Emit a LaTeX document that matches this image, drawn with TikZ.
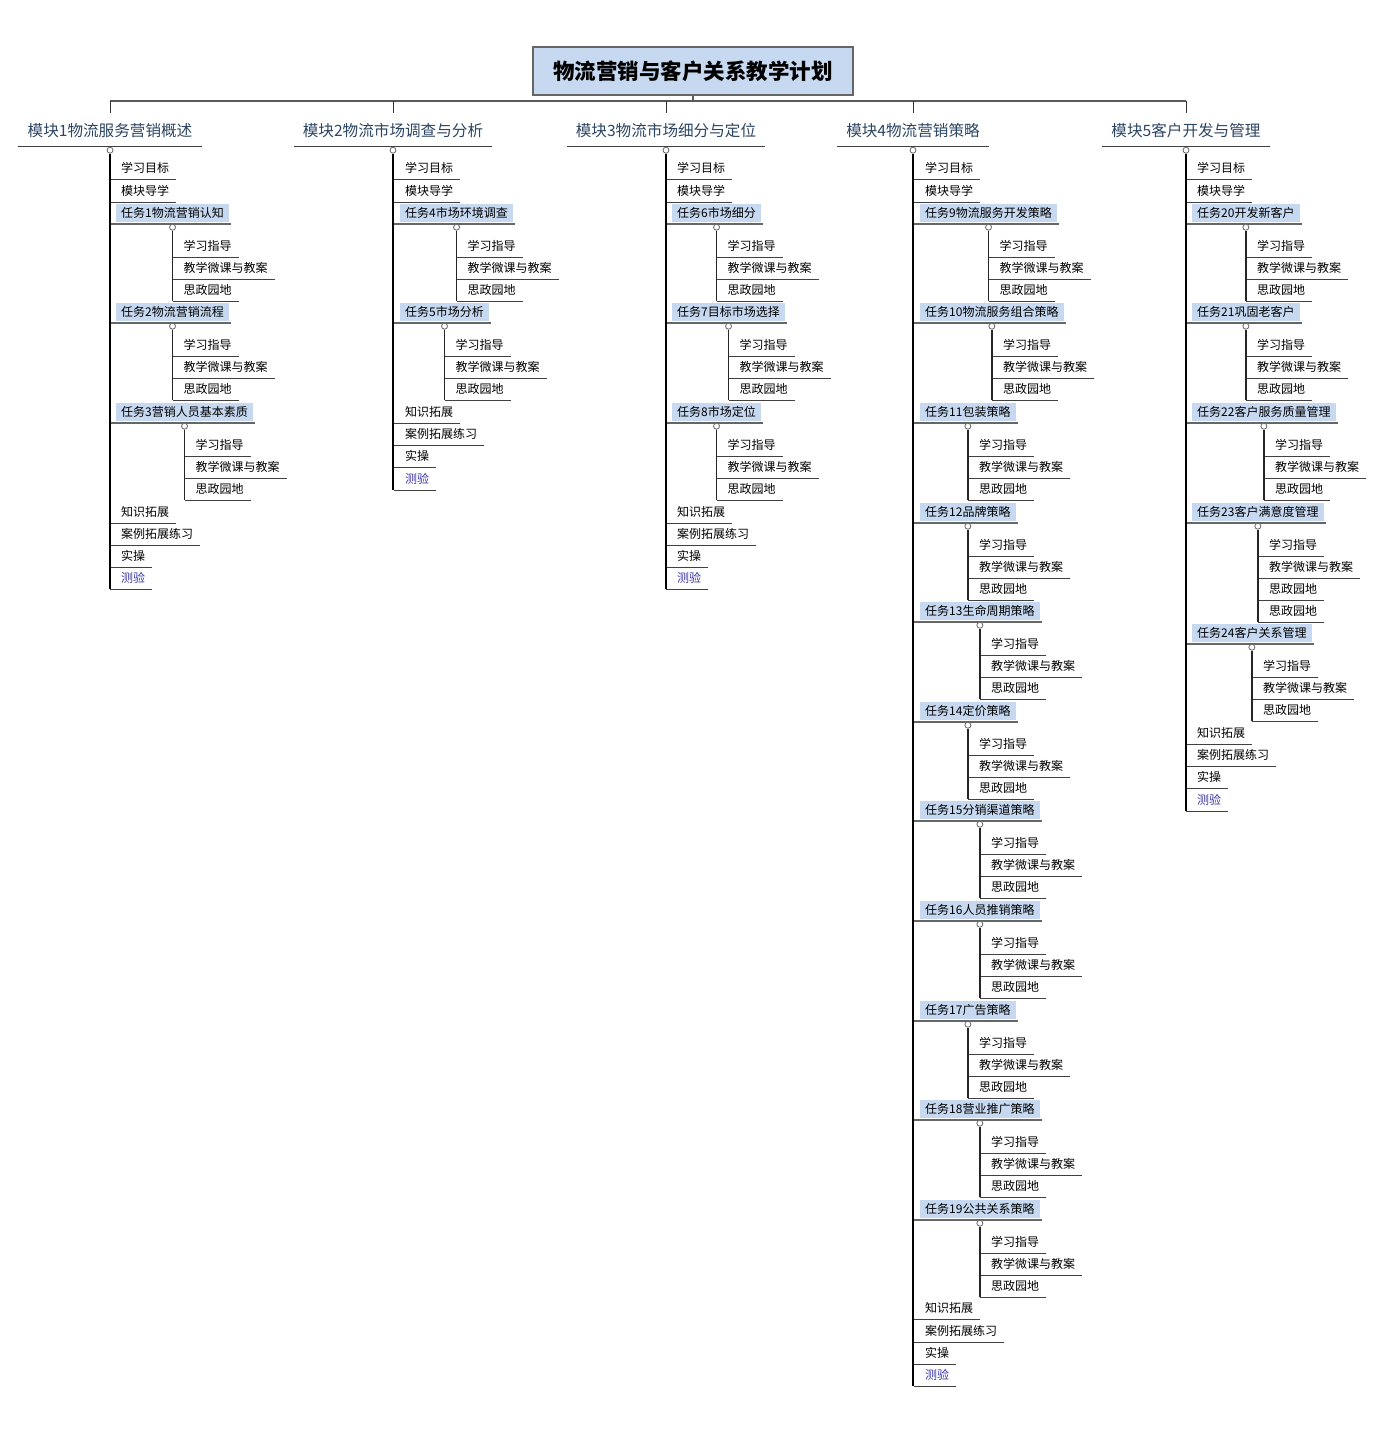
\documentclass[tikz,border=0pt]{standalone}
\usepackage{fontspec}
\setmainfont{Noto Sans CJK SC}
\usepackage{xcolor}
\usetikzlibrary{positioning,calc}
\definecolor{taskblue}{HTML}{C6D9F1}
\definecolor{modblue}{HTML}{2B4562}
\definecolor{quizblue}{HTML}{3A36A6}
\tikzset{
  uline/.style={draw=black!75,line width=1pt},
  tline/.style={draw=black!60,line width=2pt},
  mline/.style={draw=black!75,line width=1.2pt},
  leaf/.style={anchor=west,inner xsep=0pt,inner ysep=0pt,minimum height=22pt,
    font=\fontsize{12}{14}\selectfont,
    append after command={([xshift=-11pt]\tikzlastnode.south west) edge[uline] ([xshift=7pt]\tikzlastnode.south east)}},
  task/.style={anchor=west,fill=taskblue,inner xsep=5pt,inner ysep=0pt,minimum height=18pt,
    font=\fontsize{12}{14}\selectfont,
    append after command={([xshift=-6pt,yshift=-2pt]\tikzlastnode.south west) edge[tline] ([xshift=2pt,yshift=-2pt]\tikzlastnode.south east)}},
  module/.style={text=modblue,inner xsep=9pt,inner ysep=0pt,minimum height=30pt,
    font=\fontsize{15.6}{18}\selectfont,
    append after command={(\tikzlastnode.south west) edge[mline] (\tikzlastnode.south east)}},
  titlebox/.style={draw=black!60,fill=taskblue,line width=1.2pt,minimum width=320pt,minimum height=48pt,
    font=\fontsize{21.5}{24}\selectfont\bfseries},
  knob/.style={circle,draw=black!60,fill=white,inner sep=0pt,minimum size=6pt,line width=0.8pt},
  vline/.style={draw=black,line width=1.5pt},
  subline/.style={draw=black!85,line width=1.3pt},
  barline/.style={draw=black!65,line width=2pt},
  dropline/.style={draw=black!80,line width=1pt}
}
\begin{document}
\begin{tikzpicture}[x=1pt,y=-1pt]
  \useasboundingbox (0,0) rectangle (1397,1438);

  % title and modules
  \node[titlebox] (T) at (693,71) {物流营销与客户关系教学计划};
  \coordinate (bar) at (693,101);
  \node[module] (M1) at (110,131) {模块1物流服务营销概述};
  \node[module] (M2) at (393,131) {模块2物流市场调查与分析};
  \node[module] (M3) at (666,131) {模块3物流市场细分与定位};
  \node[module] (M4) at (913,131) {模块4物流营销策略};
  \node[module] (M5) at (1186,131) {模块5客户开发与管理};

  \draw[barline] (T.south) -- (bar);
  \draw[barline] (M1.north |- bar) -- (M5.north |- bar);
  \foreach \m in {M1,M2,M3,M4,M5} {
    \draw[dropline] (\m.north |- bar) -- ([yshift=3pt]\m.north);
    \node[knob] (\m k) at ([yshift=-4pt]\m.south) {};
  }

  % module 1
  \node[leaf] (a1) at (121,168) {学习目标};
  \node[leaf] (a2) at (121,191) {模块导学};
  \node[task] (a3) at (116,213) {任务1物流营销认知};
  \node[task] (a4) at (116,312) {任务2物流营销流程};
  \node[task] (a5) at (116,412) {任务3营销人员基本素质};
  \node[leaf] (a6) at (121,512) {知识拓展};
  \node[leaf] (a7) at (121,534) {案例拓展练习};
  \node[leaf] (a8) at (121,556) {实操};
  \node[leaf,text=quizblue] (a9) at (121,578) {测验};

  % module 2
  \node[leaf] (b1) at (405,168) {学习目标};
  \node[leaf] (b2) at (405,191) {模块导学};
  \node[task] (b3) at (400,213) {任务4市场环境调查};
  \node[task] (b4) at (400,312) {任务5市场分析};
  \node[leaf] (b5) at (405,412) {知识拓展};
  \node[leaf] (b6) at (405,434) {案例拓展练习};
  \node[leaf] (b7) at (405,456) {实操};
  \node[leaf,text=quizblue] (b8) at (405,479) {测验};

  % module 3
  \node[leaf] (c1) at (677,168) {学习目标};
  \node[leaf] (c2) at (677,191) {模块导学};
  \node[task] (c3) at (672,213) {任务6市场细分};
  \node[task] (c4) at (672,312) {任务7目标市场选择};
  \node[task] (c5) at (672,412) {任务8市场定位};
  \node[leaf] (c6) at (677,512) {知识拓展};
  \node[leaf] (c7) at (677,534) {案例拓展练习};
  \node[leaf] (c8) at (677,556) {实操};
  \node[leaf,text=quizblue] (c9) at (677,578) {测验};

  % module 4
  \node[leaf] (d1) at (925,168) {学习目标};
  \node[leaf] (d2) at (925,191) {模块导学};
  \node[task] (d3) at (920,213) {任务9物流服务开发策略};
  \node[task] (d4) at (920,312) {任务10物流服务组合策略};
  \node[task] (d5) at (920,412) {任务11包装策略};
  \node[task] (d6) at (920,512) {任务12品牌策略};
  \node[task] (d7) at (920,611) {任务13生命周期策略};
  \node[task] (d8) at (920,711) {任务14定价策略};
  \node[task] (d9) at (920,810) {任务15分销渠道策略};
  \node[task] (d10) at (920,910) {任务16人员推销策略};
  \node[task] (d11) at (920,1010) {任务17广告策略};
  \node[task] (d12) at (920,1109) {任务18营业推广策略};
  \node[task] (d13) at (920,1209) {任务19公共关系策略};
  \node[leaf] (d14) at (925,1308) {知识拓展};
  \node[leaf] (d15) at (925,1331) {案例拓展练习};
  \node[leaf] (d16) at (925,1353) {实操};
  \node[leaf,text=quizblue] (d17) at (925,1375) {测验};

  % module 5
  \node[leaf] (e1) at (1197,168) {学习目标};
  \node[leaf] (e2) at (1197,191) {模块导学};
  \node[task] (e3) at (1192,213) {任务20开发新客户};
  \node[task] (e4) at (1192,312) {任务21巩固老客户};
  \node[task] (e5) at (1192,412) {任务22客户服务质量管理};
  \node[task] (e6) at (1192,512) {任务23客户满意度管理};
  \node[task] (e7) at (1192,633) {任务24客户关系管理};
  \node[leaf] (e8) at (1197,733) {知识拓展};
  \node[leaf] (e9) at (1197,755) {案例拓展练习};
  \node[leaf] (e10) at (1197,777) {实操};
  \node[leaf,text=quizblue] (e11) at (1197,800) {测验};

  % module spines
  \draw[vline] (M1k.south) -- (M1k |- a9.south);
  \draw[vline] (M2k.south) -- (M2k |- b8.south);
  \draw[vline] (M3k.south) -- (M3k |- c9.south);
  \draw[vline] (M4k.south) -- (M4k |- d17.south);
  \draw[vline] (M5k.south) -- (M5k |- e11.south);

  % task branches
  \foreach \t in {a3,a4,a5,b3,b4,c3,c4,c5,d3,d4,d5,d6,d7,d8,d9,d10,d11,d12,d13,e3,e4,e5,e6,e7} {
    \node[knob] (\t-k) at ([yshift=-5pt]\t.south) {};
    \node[leaf] (\t-1) at ($(\t.south)+(11,24)$) {学习指导};
    \node[leaf] (\t-2) at ($(\t.south)+(11,46)$) {教学微课与教案};
    \node[leaf] (\t-3) at ($(\t.south)+(11,68)$) {思政园地};
    \draw[subline] (\t-k.south) -- (\t-k |- \t-3.south);
  }
  \node[leaf] (e6-4) at ($(e6.south)+(11,90)$) {思政园地};
  \draw[subline] (e6-k |- e6-3.south) -- (e6-k |- e6-4.south);
\end{tikzpicture}
\end{document}
